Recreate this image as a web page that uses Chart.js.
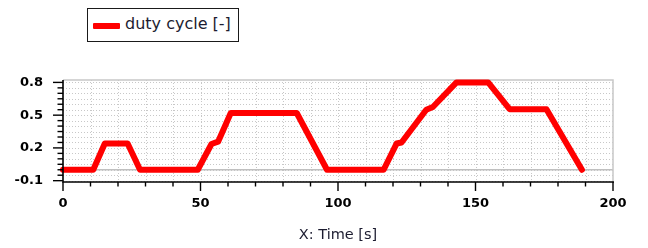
<!DOCTYPE html>
<html>
<head>
<meta charset="utf-8">
<script src="https://cdn.jsdelivr.net/npm/chart.js@4"></script>
<style>
  html, body { margin: 0; padding: 0; background: #fff; }
  #wrap { position: relative; width: 648px; height: 248px; }
  #legend { position: absolute; left: 87px; top: 8px; width: 150px; height: 32px;
    border: 1.5px solid #1a1a1a; background: #fff; z-index: 2; }
  #legend .swatch { position: absolute; left: 5px; top: 14px; width: 27px; height: 5.5px; background: #ff0000; border-radius: 1px; }
  #legend .txt { position: absolute; left: 37px; top: 5px; font: 16px "DejaVu Sans", sans-serif; color: #1c1c30; white-space: nowrap; }
</style>
</head>
<body>
<div id="wrap">
  <div id="legend"><div class="swatch"></div><div class="txt">duty cycle [-]</div></div>
  <canvas id="c" width="648" height="248"></canvas>
</div>
<script>
// ---- data ----
const time = [0, 11, 15.2, 23.5, 28, 49, 54, 56.4, 61, 85, 96, 116.6, 121.3, 123.1, 132.1, 134.5, 143.1, 154.6, 162.4, 175.8, 188.7];
const duty = [0, 0, 0.24, 0.24, 0, 0, 0.236, 0.257, 0.52, 0.52, 0, 0, 0.24, 0.25, 0.55, 0.575, 0.8, 0.8, 0.555, 0.555, 0];
const seriesLabel = "duty cycle [-]";
const xTickLabels = [0, 50, 100, 150, 200];
const yTickLabels = [-0.1, 0.2, 0.5, 0.8];
const xMinorStep = 10;
const yMinorStep = 0.05;
const xTitle = "X: Time [s]";

const points = time.map((t, i) => ({ x: t, y: duty[i] }));

const framePlugin = {
  id: 'frame',
  beforeDatasetsDraw(chart) {
    const { ctx, chartArea: a, scales: { x, y } } = chart;
    ctx.save();
    ctx.strokeStyle = '#c8c8c8';
    ctx.lineWidth = 1;
    ctx.setLineDash([1, 2]);
    const nY = Math.round((yTickLabels[yTickLabels.length - 1] - yTickLabels[0]) / yMinorStep);
    for (let i = 0; i <= nY; i++) {
      const v = yTickLabels[0] + i * yMinorStep;
      const py = Math.round(y.getPixelForValue(v)) + 0.5;
      ctx.beginPath(); ctx.moveTo(a.left, py); ctx.lineTo(a.right, py); ctx.stroke();
    }
    for (let t = xTickLabels[0] + xMinorStep; t < xTickLabels[xTickLabels.length - 1]; t += xMinorStep) {
      const px = Math.round(x.getPixelForValue(t)) + 0.5;
      ctx.beginPath(); ctx.moveTo(px, a.top); ctx.lineTo(px, a.bottom); ctx.stroke();
    }
    ctx.setLineDash([]);
    ctx.strokeStyle = '#c0c0c0';
    ctx.lineWidth = 1.5;
    const zy = y.getPixelForValue(0);
    ctx.beginPath(); ctx.moveTo(a.left, zy); ctx.lineTo(a.right, zy); ctx.stroke();
    ctx.strokeStyle = '#c8c8c8';
    ctx.beginPath(); ctx.moveTo(a.left, a.top); ctx.lineTo(a.right, a.top); ctx.lineTo(a.right, a.bottom); ctx.stroke();
    ctx.restore();
  },
  afterDatasetsDraw(chart) {
    const { ctx, chartArea: a, scales: { x, y } } = chart;
    ctx.save();
    ctx.strokeStyle = '#000';
    ctx.lineWidth = 1.6;
    ctx.beginPath(); ctx.moveTo(a.left, a.top); ctx.lineTo(a.left, a.bottom + 1); ctx.lineTo(a.right + 1, a.bottom + 1); ctx.stroke();
    ctx.lineWidth = 1.4;
    const nY = Math.round((yTickLabels[yTickLabels.length - 1] - yTickLabels[0]) / yMinorStep);
    for (let i = 0; i <= nY; i++) {
      const v = yTickLabels[0] + i * yMinorStep;
      const major = i % 6 === 0;
      const py = y.getPixelForValue(v);
      ctx.beginPath(); ctx.moveTo(a.left - (major ? 10 : 5.5), py); ctx.lineTo(a.left, py); ctx.stroke();
    }
    for (let t = xTickLabels[0]; t <= xTickLabels[xTickLabels.length - 1]; t += xMinorStep) {
      const major = xTickLabels.includes(t);
      const px = x.getPixelForValue(t);
      ctx.beginPath(); ctx.moveTo(px, a.bottom + 1); ctx.lineTo(px, a.bottom + 1 + (major ? 9 : 4.5)); ctx.stroke();
    }
    ctx.restore();
  }
};

new Chart(document.getElementById('c'), {
  type: 'line',
  data: {
    datasets: [{
      label: seriesLabel,
      data: points,
      borderColor: '#ff0000',
      borderWidth: 6,
      pointRadius: 0,
      tension: 0,
      borderCapStyle: 'round',
      borderJoinStyle: 'round',
      fill: false,
      clip: 4
    }]
  },
  options: {
    responsive: false,
    animation: false,
    events: [],
    layout: { padding: { top: 80, right: 35, left: 0, bottom: 0 } },
    plugins: { legend: { display: false }, tooltip: { enabled: false } },
    scales: {
      x: {
        type: 'linear',
        min: 0, max: 200,
        afterBuildTicks: s => { s.ticks = xTickLabels.map(v => ({ value: v })); },
        afterFit: s => { s.height = 67; },
        grid: { display: true, color: 'rgba(0,0,0,0)', drawTicks: false },
        border: { display: false },
        ticks: { padding: 15, color: '#000', font: { family: 'DejaVu Sans', weight: 'bold', size: 13 }, maxRotation: 0 },
        title: { display: true, text: xTitle, color: '#1c1c30', font: { family: 'DejaVu Sans', size: 14.5 }, padding: { top: 15 } }
      },
      y: {
        type: 'linear',
        min: -0.103, max: 0.822,
        afterBuildTicks: s => { s.ticks = yTickLabels.map(v => ({ value: v })); },
        afterFit: s => { s.width = 63; },
        grid: { display: true, color: 'rgba(0,0,0,0)', drawTicks: false },
        border: { display: false },
        ticks: { padding: 20, color: '#000', font: { family: 'DejaVu Sans', weight: 'bold', size: 13 },
          callback: v => String(Math.round(v * 10) / 10) }
      }
    }
  },
  plugins: [framePlugin]
});
</script>
</body>
</html>
